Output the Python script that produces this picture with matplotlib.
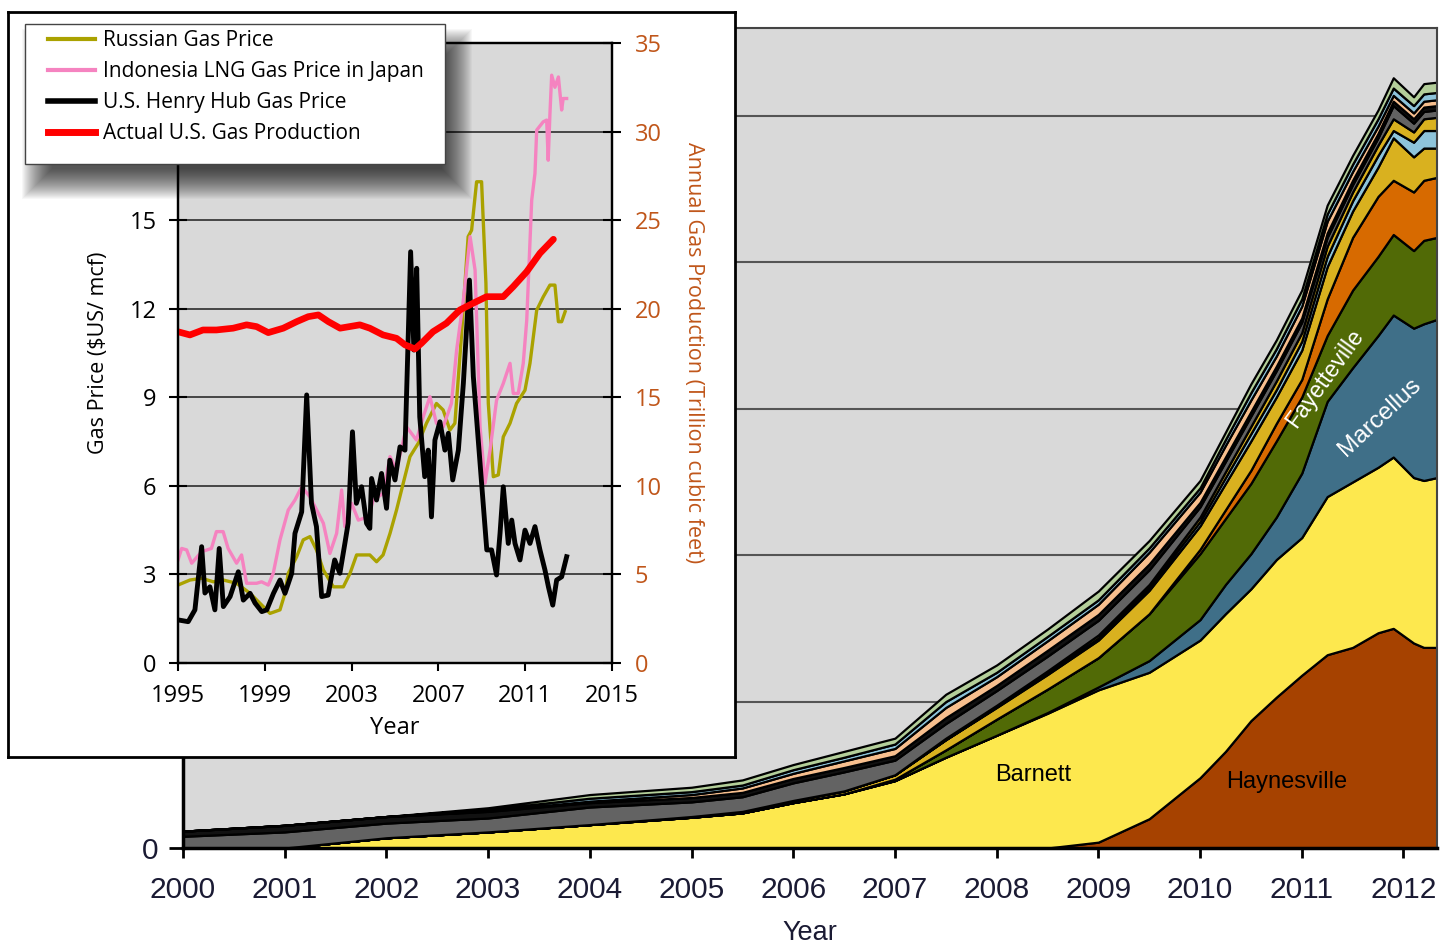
import matplotlib.pyplot as plt
from matplotlib.patches import Rectangle
from matplotlib.lines import Line2D

plt.rcParams['font.family'] = ['Open Sans', 'DejaVu Sans']

W, H = 1441, 951

# ---- main chart: shale gas production by play (stacked) ----
years = [2000, 2001, 2002, 2003, 2004, 2005, 2005.5, 2006, 2006.5, 2007, 2007.5, 2008, 2008.5,
         2009, 2009.5, 2010, 2010.25, 2010.5, 2010.75, 2011, 2011.25, 2011.5, 2011.75, 2011.9,
         2012.1, 2012.2, 2012.33]
haynesville = [0, 0, 0, 0, 0, 0, 0, 0, 0, 0, 0, 0, 0,
               0.04, 0.20, 0.48, 0.66, 0.87, 1.03, 1.18, 1.32, 1.37, 1.47, 1.50, 1.40, 1.37, 1.37]
barnett = [0, 0, 0.07, 0.11, 0.16, 0.21, 0.24, 0.31, 0.37, 0.46, 0.62, 0.77, 0.92,
           1.04, 1.00, 0.94, 0.94, 0.90, 0.94, 0.94, 1.08, 1.13, 1.13, 1.17, 1.13, 1.14, 1.16]
marcellus = [0, 0, 0, 0, 0, 0, 0, 0, 0, 0, 0, 0, 0.005,
             0.02, 0.08, 0.14, 0.20, 0.24, 0.29, 0.44, 0.65, 0.78, 0.90, 0.97, 1.02, 1.07, 1.08]
fayetteville = [0, 0, 0, 0, 0, 0, 0, 0, 0, 0.01, 0.05, 0.11, 0.16,
                0.20, 0.32, 0.45, 0.45, 0.48, 0.52, 0.52, 0.45, 0.53, 0.54, 0.55, 0.53, 0.57, 0.56]
eagle_ford = [0, 0, 0, 0, 0, 0, 0, 0, 0, 0, 0, 0, 0,
              0, 0, 0.03, 0.06, 0.09, 0.12, 0.12, 0.25, 0.36, 0.41, 0.37, 0.40, 0.41, 0.41]
woodford = [0, 0, 0, 0, 0, 0.005, 0.01, 0.015, 0.02, 0.03, 0.07, 0.08, 0.10,
            0.12, 0.16, 0.16, 0.18, 0.20, 0.18, 0.20, 0.22, 0.18, 0.20, 0.29, 0.24, 0.22, 0.20]
bakken = [0, 0, 0, 0, 0, 0, 0, 0, 0, 0, 0, 0.005, 0.01,
          0.015, 0.02, 0.03, 0.04, 0.05, 0.05, 0.06, 0.07, 0.07, 0.08, 0.05, 0.10, 0.12, 0.12]
granite_wash = [0, 0, 0, 0, 0, 0, 0, 0, 0, 0, 0.01, 0.01, 0.015,
                0.02, 0.02, 0.03, 0.04, 0.05, 0.06, 0.06, 0.07, 0.06, 0.07, 0.08, 0.07, 0.08, 0.09]
antrim = [0.08, 0.11, 0.10, 0.095, 0.12, 0.10, 0.10, 0.12, 0.13, 0.10, 0.10, 0.10, 0.10,
          0.10, 0.10, 0.07, 0.07, 0.07, 0.07, 0.07, 0.06, 0.05, 0.05, 0.09, 0.06, 0.05, 0.05]
new_albany = [0.035, 0.045, 0.045, 0.045, 0.03, 0.03, 0.03, 0.03, 0.03, 0.03, 0.04, 0.035, 0.04,
              0.04, 0.04, 0.03, 0.03, 0.03, 0.03, 0.03, 0.03, 0.03, 0.03, 0.03, 0.03, 0.03, 0.03]
niobrara = [0, 0, 0, 0.005, 0.01, 0.02, 0.03, 0.035, 0.045, 0.05, 0.07, 0.06, 0.065,
            0.07, 0.08, 0.07, 0.08, 0.08, 0.07, 0.08, 0.08, 0.06, 0.05, 0.04, 0.04, 0.04, 0.04]
lewis = [0, 0, 0, 0.01, 0.02, 0.02, 0.02, 0.025, 0.025, 0.03, 0.04, 0.03, 0.03,
         0.03, 0.03, 0.03, 0.04, 0.05, 0.05, 0.05, 0.05, 0.05, 0.05, 0.05, 0.05, 0.05, 0.05]
others = [0, 0, 0, 0.01, 0.025, 0.03, 0.035, 0.035, 0.04, 0.04, 0.05, 0.05, 0.05,
          0.06, 0.05, 0.05, 0.05, 0.06, 0.06, 0.06, 0.06, 0.06, 0.06, 0.07, 0.06, 0.07, 0.07]

layers = [haynesville, barnett, marcellus, fayetteville, eagle_ford, woodford, bakken,
          granite_wash, antrim, new_albany, niobrara, lewis, others]
layer_colors = ['#a64200', '#fde84e', '#3f6f88', '#516a06', '#d76a00', '#d9b11f', '#8ec4da',
                '#d9b11f', '#636363', '#111111', '#f7bf8e', '#8ec4da', '#b4cf9a']
main_xticks = list(range(2000, 2013))

# ---- inset: gas prices ($/mcf) and US production (Tcf) ----
hh_year = [1995.0, 1995.47, 1995.78, 1996.09, 1996.24, 1996.47, 1996.7, 1996.9, 1997.09, 1997.4,
           1997.78, 1998.01, 1998.32, 1998.55, 1998.86, 1999.09, 1999.4, 1999.7, 1999.93, 2000.24,
           2000.39, 2000.7, 2000.93, 2001.15, 2001.38, 2001.62, 2001.92, 2002.07, 2002.22, 2002.46,
           2002.69, 2002.84, 2003.04, 2003.22, 2003.46, 2003.69, 2003.84, 2003.92, 2004.15, 2004.38,
           2004.61, 2004.76, 2005.0, 2005.23, 2005.46, 2005.72, 2005.87, 2006.0, 2006.14, 2006.37,
           2006.53, 2006.68, 2006.84, 2007.07, 2007.3, 2007.46, 2007.66, 2007.92, 2008.15, 2008.43,
           2008.61, 2008.92, 2009.23, 2009.45, 2009.68, 2009.84, 2009.99, 2010.22, 2010.38, 2010.53,
           2010.76, 2010.99, 2011.22, 2011.45, 2011.68, 2011.91, 2012.07, 2012.27, 2012.45, 2012.68,
           2012.91]
hh_price = [1.46, 1.40, 1.8, 3.94, 2.37, 2.58, 1.8, 3.88, 1.91, 2.25,
            3.09, 2.13, 2.36, 2.03, 1.74, 1.8, 2.36, 2.81, 2.36, 3.04,
            4.39, 5.12, 9.08, 5.41, 4.62, 2.25, 2.30, 2.92, 3.49, 3.04,
            4.05, 4.73, 7.83, 5.41, 5.97, 4.73, 4.56, 6.25, 5.52, 6.42,
            5.24, 6.87, 6.2, 7.32, 7.21, 13.93, 10.6, 13.37, 8.34, 6.31,
            7.21, 4.95, 7.55, 8.17, 7.21, 7.78, 6.2, 7.21, 9.47, 12.97,
            9.7, 6.76, 3.83, 3.83, 2.98, 4.39, 5.97, 4.05, 4.84, 4.05,
            3.49, 4.5, 4.05, 4.62, 3.83, 3.15, 2.58, 1.96, 2.81, 2.92,
            3.6]

lng_year = [1995.0, 1995.17, 1995.4, 1995.63, 1996.09, 1996.54, 1996.77, 1997.08, 1997.31, 1997.7,
            1997.93, 1998.16, 1998.62, 1998.85, 1999.16, 1999.39, 1999.7, 2000.08, 2000.39, 2000.7,
            2001.08, 2001.47, 2001.7, 2002.0, 2002.31, 2002.54, 2002.69, 2003.0, 2003.31, 2003.77,
            2004.0, 2004.46, 2004.77, 2005.07, 2005.53, 2005.99, 2006.3, 2006.61, 2006.91, 2007.22,
            2007.6, 2007.84, 2008.15, 2008.46, 2008.69, 2008.92, 2009.15, 2009.38, 2009.68, 2009.99,
            2010.3, 2010.45, 2010.68, 2010.91, 2011.07, 2011.3, 2011.45, 2011.53, 2011.83, 2011.99,
            2012.06, 2012.14, 2012.22, 2012.37, 2012.53, 2012.68, 2012.75, 2012.91]
lng_price = [3.49, 3.88, 3.83, 3.38, 3.77, 3.88, 4.45, 4.45, 3.88, 3.38,
             3.66, 2.7, 2.7, 2.75, 2.64, 3.04, 4.17, 5.18, 5.52, 5.97,
             5.63, 5.07, 4.73, 3.71, 4.39, 5.86, 4.62, 5.41, 4.84, 4.95,
             5.52, 5.75, 6.99, 6.54, 8.0, 7.55, 8.34, 9.02, 8.12, 8.0,
             8.79, 10.6, 12.29, 14.44, 13.31, 8.0, 6.09, 7.21, 8.9, 9.47,
             10.15, 9.13, 9.13, 10.15, 11.6, 15.68, 16.58, 18.05, 18.33, 18.39,
             17.03, 18.6, 19.91, 19.5, 19.85, 18.73, 19.12, 19.12]

rus_year = [1995.0, 1995.55, 1996.09, 1996.63, 1997.09, 1997.7, 1998.32, 1998.93, 1999.24, 1999.7,
            1999.93, 2000.08, 2000.47, 2000.77, 2001.08, 2001.38, 2001.7, 2002.16, 2002.62, 2002.93,
            2003.23, 2003.84, 2004.15, 2004.45, 2004.77, 2005.07, 2005.38, 2005.69, 2006.07, 2006.45,
            2006.91, 2007.22, 2007.53, 2007.76, 2008.06, 2008.37, 2008.53, 2008.76, 2008.99, 2009.19,
            2009.3, 2009.53, 2009.76, 2009.99, 2010.3, 2010.6, 2010.99, 2011.22, 2011.53, 2011.83,
            2012.14, 2012.37, 2012.53, 2012.68, 2012.84]
rus_price = [2.64, 2.81, 2.87, 2.75, 2.81, 2.7, 2.36, 1.91, 1.68, 1.8,
             2.36, 3.04, 3.6, 4.17, 4.28, 3.83, 3.15, 2.58, 2.58, 3.04,
             3.66, 3.66, 3.43, 3.66, 4.39, 5.18, 6.09, 6.99, 7.44, 8.12,
             8.79, 8.57, 7.89, 8.12, 11.05, 14.44, 14.66, 16.3, 16.3, 12.86,
             8.79, 6.31, 6.37, 7.66, 8.12, 8.79, 9.24, 10.15, 11.95, 12.4,
             12.8, 12.8, 11.56, 11.56, 11.9]

prod_year = [1995.0, 1995.55, 1996.15, 1996.77, 1997.54, 1998.16, 1998.62, 1999.16, 1999.85, 2000.47,
             2001.0, 2001.47, 2001.93, 2002.47, 2003.38, 2003.84, 2004.45, 2005.07, 2005.46, 2005.92,
             2006.22, 2006.75, 2007.37, 2007.99, 2008.6, 2009.22, 2009.99, 2010.45, 2011.07, 2011.68,
             2012.3]
prod_tcf = [18.7, 18.52, 18.8, 18.8, 18.9, 19.09, 18.99, 18.65, 18.9, 19.27,
            19.55, 19.65, 19.27, 18.9, 19.09, 18.9, 18.52, 18.33, 17.96, 17.73,
            18.05, 18.7, 19.18, 19.93, 20.31, 20.68, 20.68, 21.25, 22.09, 23.13,
            23.92]

legend_labels = ['Russian Gas Price', 'Indonesia LNG Gas Price in Japan',
                 'U.S. Henry Hub Gas Price', 'Actual U.S. Gas Production']
# price ticks above 15 sit behind the legend box, so they carry no label
price_ticks = [0, 3, 6, 9, 12, 15, 18, 21]
price_labels = ['0', '3', '6', '9', '12', '15', '', '']


def fig_box(x0, y0, x1, y1):
    # pixel box (top-left origin) -> figure fraction [left, bottom, width, height]
    return [x0 / W, 1 - y1 / H, (x1 - x0) / W, (y1 - y0) / H]


fig = plt.figure(figsize=(W / 100, H / 100), dpi=100)

# main axes
ax = fig.add_axes(fig_box(183, 28, 1437, 848))
ax.set_zorder(0)
ax.set_facecolor('#d9d9d9')
ax.stackplot(years, *layers, colors=layer_colors, edgecolor='black', linewidth=1.6, zorder=2)
ax.set_xlim(2000, 2012.33)
ax.set_ylim(0, 5.6)
ax.set_xticks(main_xticks)
ax.set_yticks([0, 1, 2, 3, 4, 5], ['0', '', '', '', '', ''])
ax.yaxis.grid(True, color='#555555', linewidth=1.5)
ax.set_axisbelow(True)
main_font = ['Liberation Sans', 'DejaVu Sans']
for lab in ax.get_xticklabels() + ax.get_yticklabels():
    lab.set_family(main_font)
    lab.set_fontsize(21.5)
    lab.set_color('#1a1a33')
ax.tick_params(axis='x', length=7, width=2, pad=13)
ax.tick_params(axis='y', length=10, width=2, pad=8)
ax.set_xlabel('Year', family=main_font, fontsize=19.5, color='#1a1a33', labelpad=12)
for side in ['left', 'bottom']:
    ax.spines[side].set_linewidth(2.5)
for side in ['top', 'right']:
    ax.spines[side].set_color('#444444')
    ax.spines[side].set_linewidth(1.5)

ax.text(2008.36, 0.50, 'Barnett', family=main_font, fontsize=17, ha='center', va='center', zorder=5)
ax.text(2010.85, 0.45, 'Haynesville', family=main_font, fontsize=17, ha='center', va='center', zorder=5)
ax.text(2011.23, 3.21, 'Fayetteville', family=main_font, fontsize=16.5, color='white', rotation=54,
        ha='center', va='center', rotation_mode='anchor', zorder=5)
ax.text(2011.77, 2.94, 'Marcellus', family=main_font, fontsize=17.5, color='white', rotation=43,
        ha='center', va='center', rotation_mode='anchor', zorder=5)

# white inset panel
box = fig.add_axes(fig_box(8, 12, 735, 757))
box.set_zorder(1)
box.set_facecolor('white')
box.set_xticks([])
box.set_yticks([])
for sp in box.spines.values():
    sp.set_linewidth(2)
    sp.set_color('black')

# inset axes
axin = fig.add_axes(fig_box(178, 43, 612, 663))
axin.set_zorder(2)
axin.set_facecolor('#d9d9d9')
axin.plot(rus_year, rus_price, color='#aaa200', linewidth=2.4)
axin.plot(lng_year, lng_price, color='#f583c0', linewidth=2.4)
axin.plot(hh_year, hh_price, color='black', linewidth=3.5)
axin.set_xlim(1995, 2015)
axin.set_ylim(0, 21)
axin.set_xticks(range(1995, 2016, 4))
axin.set_yticks(price_ticks, price_labels)
axin.yaxis.grid(True, color='#3a3a3a', linewidth=1.3)
axin.set_axisbelow(True)
axin.tick_params(axis='y', direction='inout', length=13, width=1.5, labelsize=17, pad=9)
axin.tick_params(axis='x', direction='out', length=6, width=1.5, labelsize=17, pad=9)
axin.set_xlabel('Year', fontsize=17, labelpad=6)
axin.set_ylabel('Gas Price ($US/ mcf)', fontsize=15.5, labelpad=15)
for sp in axin.spines.values():
    sp.set_linewidth(1.6)

ax2 = axin.twinx()
ax2.set_zorder(2.5)
ax2.plot(prod_year, prod_tcf, color='#ff0000', linewidth=4.8, solid_capstyle='round')
ax2.set_ylim(0, 35)
ax2.set_yticks(range(0, 36, 5))
ax2.tick_params(axis='y', direction='inout', length=13, width=1.5, labelsize=17,
                labelcolor='#c0561a', pad=10)
ax2.set_ylabel('Annual Gas Production (Trillion cubic feet)', fontsize=15.5, color='#c0561a',
               rotation=270, labelpad=30)
for sp in ax2.spines.values():
    sp.set_linewidth(1.6)

# legend with a soft drop shadow
for k in range(-15, 16):
    fig.add_artist(Rectangle(((25 + 12 - k) / W, 1 - (164 + 20 + k) / H),
                             (420 + 2 * k) / W, (140 + 2 * k) / H,
                             transform=fig.transFigure, color='black', alpha=0.032,
                             linewidth=0, zorder=3))
fig.add_artist(Rectangle((25 / W, 1 - 164 / H), 420 / W, 140 / H, transform=fig.transFigure,
                         facecolor='white', edgecolor='#444444', linewidth=1, zorder=4))
handles = [Line2D([], [], color='#aaa200', linewidth=3),
           Line2D([], [], color='#f583c0', linewidth=3),
           Line2D([], [], color='black', linewidth=4),
           Line2D([], [], color='#ff0000', linewidth=5)]
fig.legend(handles, legend_labels, loc='upper left', bbox_to_anchor=(48 / W, 1 - 30 / H),
           frameon=False, fontsize=15, handlelength=2.25, handletextpad=0.4,
           labelspacing=0.48, borderpad=0, borderaxespad=0)

fig.savefig('out.png', dpi=100)
